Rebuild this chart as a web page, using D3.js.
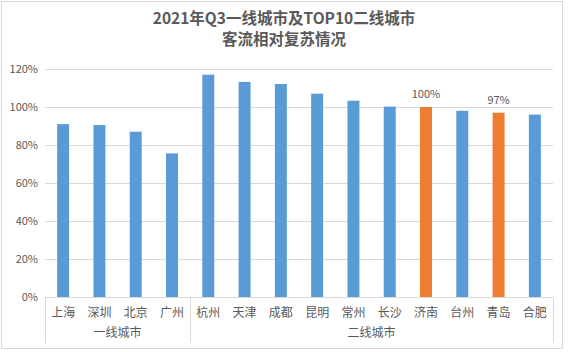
<!DOCTYPE html>
<html>
<head>
<meta charset="utf-8">
<script src="https://cdn.jsdelivr.net/npm/d3@7"></script>
<style>
  body { margin: 0; background: #fff; }
  text { font-family: "Noto Sans CJK SC", "Noto Sans", sans-serif; fill: #595959; }
</style>
</head>
<body>
<svg id="chart" width="568" height="352"></svg>
<script>
const cities = ["上海", "深圳", "北京", "广州", "杭州", "天津", "成都", "昆明", "常州", "长沙", "济南", "台州", "青岛", "合肥"];
const recovery = [91, 90.5, 87, 75.6, 117, 113.2, 112.1, 107, 103.3, 100.2, 100, 98, 97, 96];
const highlighted = ["济南", "青岛"];
const groups = [
  { name: "一线城市", from: 0, to: 4 },
  { name: "二线城市", from: 4, to: 14 }
];
const yTicks = [0, 20, 40, 60, 80, 100, 120];
const titleLines = ["2021年Q3一线城市及TOP10二线城市", "客流相对复苏情况"];

const svg = d3.select("#chart");
const margin = { left: 45, right: 15, top: 69, bottom: 55 };
const W = 568, H = 352;

// cadre extérieur
svg.append("rect")
  .attr("x", 1.5).attr("y", 1.5).attr("width", 561).attr("height", 347)
  .attr("fill", "none").attr("stroke", "#d9d9d9");

// titre
svg.selectAll(".title")
  .data(titleLines)
  .join("text")
  .attr("class", "title")
  .attr("x", 284)
  .attr("y", (d, i) => 24 + i * 21)
  .attr("text-anchor", "middle")
  .style("font-size", "15.5px")
  .style("font-weight", "bold")
  .text(d => d);

const x = d3.scaleBand().domain(cities).range([margin.left, W - margin.right]).paddingInner(0.67).paddingOuter(0.335);
const y = d3.scaleLinear().domain([0, 120]).range([H - margin.bottom, margin.top]);

// grille
svg.append("g")
  .selectAll("line")
  .data(yTicks)
  .join("line")
  .attr("x1", margin.left).attr("x2", W - margin.right)
  .attr("y1", d => Math.round(y(d)) + 0.5).attr("y2", d => Math.round(y(d)) + 0.5)
  .attr("stroke", "#d9d9d9");

// étiquettes axe Y
svg.append("g")
  .selectAll("text")
  .data(yTicks)
  .join("text")
  .attr("x", 38)
  .attr("y", d => y(d) + 4)
  .attr("text-anchor", "end")
  .style("font-size", "11px")
  .text(d => d + "%");

// barres
svg.append("g")
  .selectAll("rect")
  .data(cities)
  .join("rect")
  .attr("x", d => x(d))
  .attr("width", x.bandwidth())
  .attr("y", (d, i) => y(recovery[i]))
  .attr("height", (d, i) => y(0) - y(recovery[i]))
  .attr("fill", d => highlighted.includes(d) ? "#ed7d31" : "#5b9bd5");

// valeurs des barres orange
svg.append("g")
  .selectAll("text")
  .data(cities.filter(d => highlighted.includes(d)))
  .join("text")
  .attr("x", d => x(d) + x.bandwidth() / 2)
  .attr("y", d => y(Math.round(recovery[cities.indexOf(d)])) - 9)
  .attr("text-anchor", "middle")
  .style("font-size", "11px")
  .text(d => Math.round(recovery[cities.indexOf(d)]) + "%");

// axe X
const y0 = Math.round(y(0)) + 0.5;
svg.append("line")
  .attr("x1", margin.left).attr("x2", W - margin.right)
  .attr("y1", y0).attr("y2", y0)
  .attr("stroke", "#d9d9d9");

const step = x.step();
const bounds = [0, 4, 14].map(i => Math.round(margin.left + i * step) + 0.5);
svg.append("g")
  .selectAll("line")
  .data(bounds)
  .join("line")
  .attr("x1", d => d).attr("x2", d => d)
  .attr("y1", y0).attr("y2", 343)
  .attr("stroke", "#d9d9d9");

svg.append("g")
  .selectAll("text")
  .data(cities)
  .join("text")
  .attr("x", d => x(d) + x.bandwidth() / 2)
  .attr("y", 317)
  .attr("text-anchor", "middle")
  .style("font-size", "12px")
  .text(d => d);

svg.append("g")
  .selectAll("text")
  .data(groups)
  .join("text")
  .attr("x", d => margin.left + (d.from + d.to) / 2 * step)
  .attr("y", 337)
  .attr("text-anchor", "middle")
  .style("font-size", "12px")
  .text(d => d.name);
</script>
</body>
</html>
